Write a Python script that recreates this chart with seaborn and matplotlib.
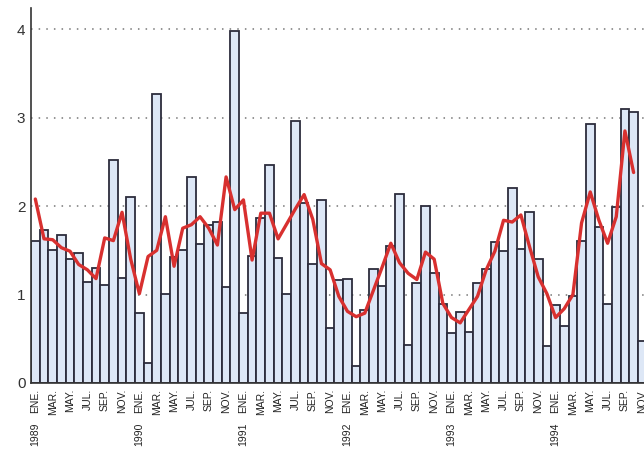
import numpy as np
import pandas as pd
import matplotlib
matplotlib.use("Agg")
import matplotlib.pyplot as plt
import seaborn as sns

years = [1989, 1990, 1991, 1992, 1993, 1994]
month_names = ["ENE.", "FEB.", "MAR.", "ABR.", "MAY.", "JUN.",
               "JUL.", "AGO.", "SEP.", "OCT.", "NOV.", "DIC."]

# monthly values, Jan 1989 .. Nov 1994
bars_1989 = [1.60, 1.73, 1.50, 1.67, 1.40, 1.47, 1.14, 1.30, 1.11, 2.52, 1.19, 2.10]
bars_1990 = [0.79, 0.23, 3.27, 1.01, 1.42, 1.50, 2.33, 1.57, 1.79, 1.82, 1.09, 3.98]
bars_1991 = [0.79, 1.44, 1.86, 2.47, 1.41, 1.01, 2.96, 2.04, 1.35, 2.07, 0.62, 1.17]
bars_1992 = [1.18, 0.19, 0.83, 1.29, 1.10, 1.55, 2.14, 0.43, 1.13, 2.00, 1.24, 0.89]
bars_1993 = [0.57, 0.80, 0.58, 1.13, 1.29, 1.59, 1.49, 2.20, 1.51, 1.93, 1.40, 0.42]
bars_1994 = [0.88, 0.64, 0.98, 1.61, 2.93, 1.76, 0.89, 1.99, 3.10, 3.06, 0.47]

# smoothed series (red line), ends Oct 1994
line_1989 = [2.08, 1.63, 1.62, 1.53, 1.49, 1.34, 1.28, 1.18, 1.64, 1.61, 1.93, 1.40]
line_1990 = [1.01, 1.43, 1.50, 1.88, 1.32, 1.75, 1.79, 1.88, 1.75, 1.56, 2.33, 1.96]
line_1991 = [2.07, 1.39, 1.92, 1.92, 1.63, 1.80, 1.97, 2.13, 1.85, 1.35, 1.28, 0.98]
line_1992 = [0.81, 0.75, 0.79, 1.05, 1.31, 1.58, 1.36, 1.24, 1.17, 1.48, 1.40, 0.90]
line_1993 = [0.74, 0.68, 0.83, 0.98, 1.28, 1.49, 1.84, 1.82, 1.90, 1.54, 1.20, 1.01]
line_1994 = [0.74, 0.84, 1.00, 1.81, 2.16, 1.84, 1.58, 1.88, 2.85, 2.38]

bars = bars_1989 + bars_1990 + bars_1991 + bars_1992 + bars_1993 + bars_1994
line = line_1989 + line_1990 + line_1991 + line_1992 + line_1993 + line_1994
n = len(bars)

df = pd.DataFrame({
    "idx": np.arange(n),
    "month": [f"{years[i // 12]}-{i % 12 + 1:02d}" for i in range(n)],
    "value": bars,
    "smooth": line + [np.nan] * (n - len(line)),
})

sns.set_style("white")
plt.rcParams["font.family"] = ["Liberation Sans", "DejaVu Sans"]

fig = plt.figure(figsize=(6.44, 4.5), dpi=100)
ax = fig.add_axes([31 / 644, 67 / 450, 613 / 644, 375 / 450])

sns.barplot(data=df, x="month", y="value", order=df["month"], width=1.0,
            color="#dde7f6", edgecolor="#2c2c3c", linewidth=1.3,
            saturation=1, ax=ax)
sns.lineplot(data=df, x="idx", y="smooth", color="#d8302f", linewidth=2.4,
             ax=ax)

ax.set_xlim(-0.5, 70.2)
ax.set_ylim(0, 4.24)
ax.set_yticks([0, 1, 2, 3, 4])
ax.set_yticklabels(["0", "1", "2", "3", "4"], fontsize=11, color="#333333")
ax.yaxis.grid(True, linestyle=(0, (1, 4)), color="#777777", linewidth=1.1)
ax.set_axisbelow(True)

tick_pos = list(range(0, n, 2))
ax.set_xticks(tick_pos)
ax.set_xticklabels([month_names[i % 12] for i in tick_pos], rotation=90,
                   fontsize=7.5, color="#222222")
ax.tick_params(axis="both", length=0, pad=4)
ax.set_xlabel("")
ax.set_ylabel("")

for k, yr in enumerate(years):
    ax.text(k * 12, -0.105, str(yr), transform=ax.get_xaxis_transform(),
            rotation=90, ha="center", va="top", fontsize=7.5, color="#222222")

for side in ["top", "right"]:
    ax.spines[side].set_visible(False)
ax.spines["left"].set_color("#333333")
ax.spines["left"].set_linewidth(1.2)
ax.spines["bottom"].set_color("#333333")
ax.spines["bottom"].set_linewidth(1.2)

fig.savefig("out.png", dpi=100)
